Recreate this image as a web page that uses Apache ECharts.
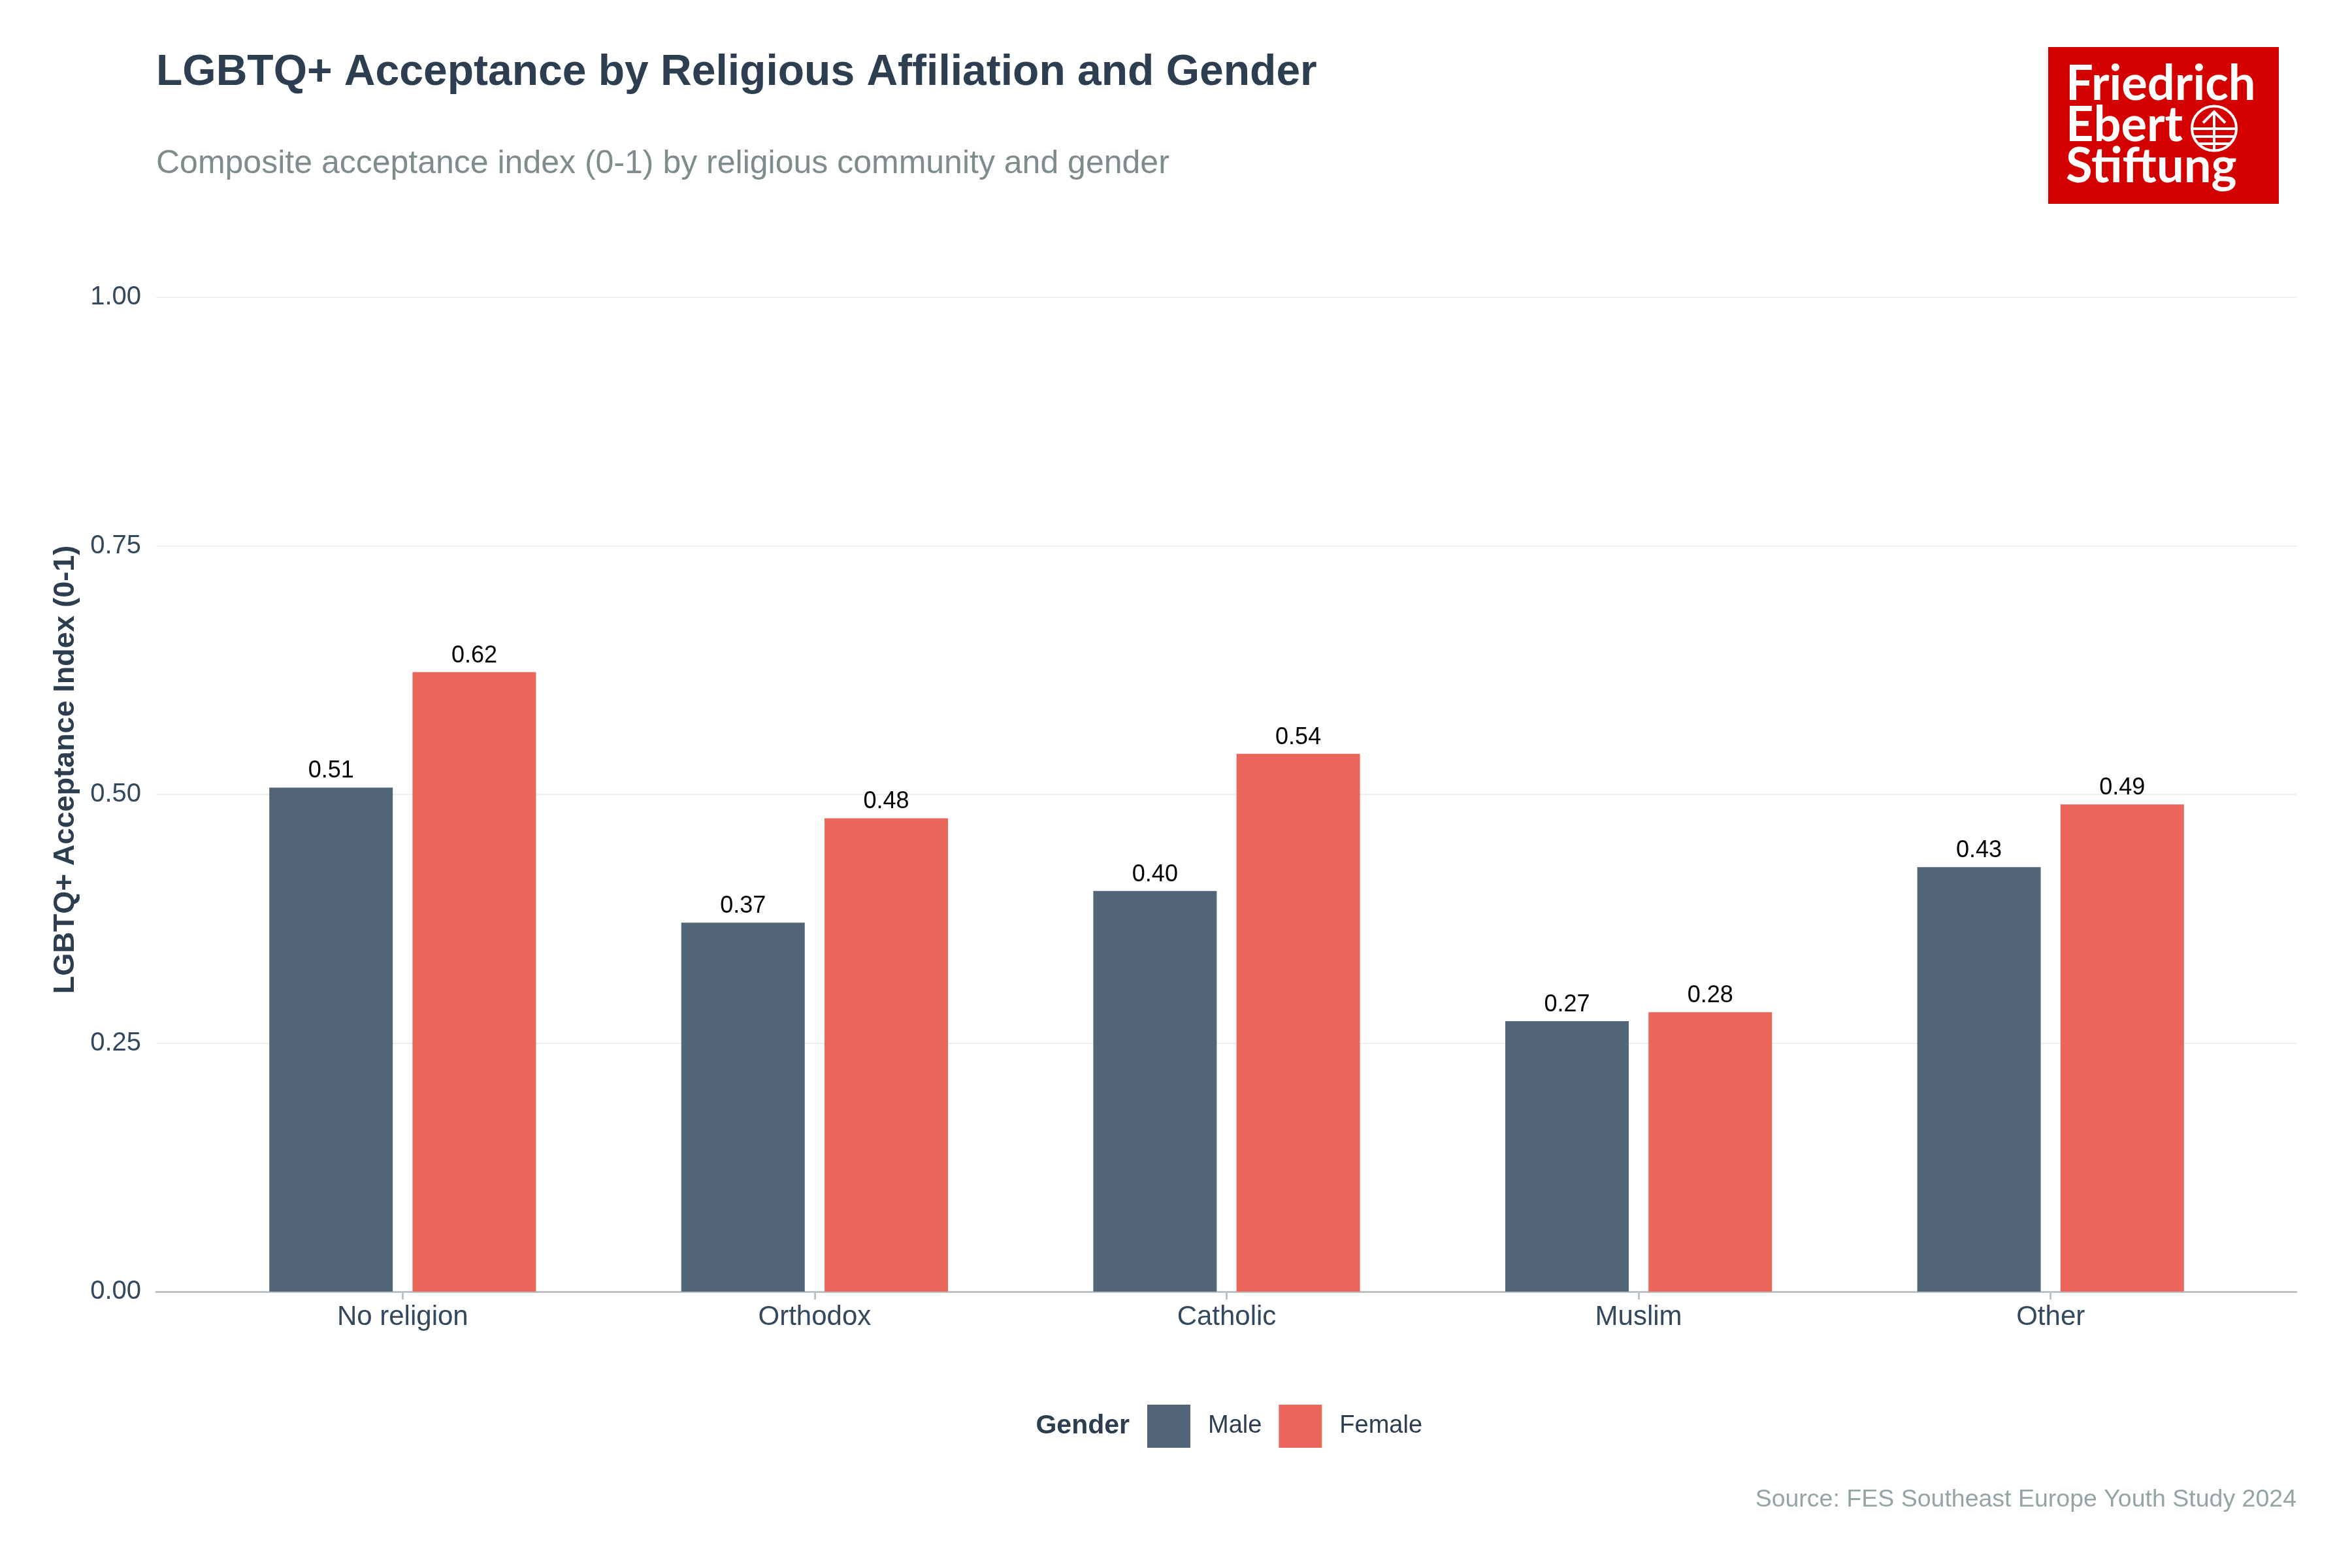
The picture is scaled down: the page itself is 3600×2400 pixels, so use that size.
<!DOCTYPE html>
<html>
<head>
<meta charset="utf-8">
<script src="https://cdn.jsdelivr.net/npm/echarts@6/dist/echarts.min.js"></script>
<style>
  html, body { margin: 0; padding: 0; background: #ffffff; }
  #chart { width: 3600px; height: 2400px; }
</style>
</head>
<body>
<div id="chart"></div>
<script>
const categories = ['No religion', 'Orthodox', 'Catholic', 'Muslim', 'Other'];
const maleValues = [0.507, 0.371, 0.403, 0.272, 0.427];
const femaleValues = [0.623, 0.476, 0.541, 0.281, 0.490];
const seriesNames = ['Male', 'Female'];
const yMin = 0;
const yMax = 1.05;
const yInterval = 0.25;

const titleText = 'LGBTQ+ Acceptance by Religious Affiliation and Gender';
const subtitleText = 'Composite acceptance index (0-1) by religious community and gender';
const yAxisTitle = 'LGBTQ+ Acceptance Index (0-1)';
const legendTitle = 'Gender';
const sourceText = 'Source: FES Southeast Europe Youth Study 2024';

const FONT = '"Liberation Sans", Arial, Helvetica, sans-serif';
const LOGOFONT = 'bold 74px Lato, "Open Sans", sans-serif';
const colMale = '#536578';
const colFemale = '#eb675b';

const chart = echarts.init(document.getElementById('chart'), null, { renderer: 'canvas' });

const option = {
  backgroundColor: '#ffffff',
  animation: false,
  textStyle: { fontFamily: FONT },
  title: [
    { text: titleText, left: 239, top: 79, padding: 0,
      textStyle: { fontFamily: FONT, fontSize: 66, fontWeight: 'bold', color: '#2c3e50' } },
    { text: subtitleText, left: 239, top: 226, padding: 0,
      textStyle: { fontFamily: FONT, fontSize: 50, fontWeight: 'normal', color: '#7f8c8d' } }
  ],
  grid: [
    { left: 239, right: 85, top: 379, bottom: 423, containLabel: false, outerBoundsMode: 'none' },
    { left: 301, right: 146, top: 379, bottom: 423, containLabel: false, outerBoundsMode: 'none' }
  ],
  xAxis: [
    { type: 'value', gridIndex: 0, min: 0, max: 1,
      axisLine: { show: true, onZero: false, lineStyle: { color: '#bdc3c7', width: 3 } },
      axisTick: { show: false }, axisLabel: { show: false }, splitLine: { show: false } },
    { type: 'category', gridIndex: 1, data: categories, boundaryGap: true,
      axisLine: { show: false },
      axisTick: { show: true, alignWithLabel: true, length: 12, lineStyle: { color: '#bdc3c7', width: 3 } },
      axisLabel: { show: true, margin: 18, fontSize: 42, color: '#34495e', fontFamily: FONT },
      splitLine: { show: false } }
  ],
  yAxis: [
    { type: 'value', gridIndex: 0, min: yMin, max: yMax, interval: yInterval,
      name: yAxisTitle, nameLocation: 'middle', nameGap: 116,
      nameTextStyle: { fontFamily: FONT, fontSize: 45, fontWeight: 'bold', color: '#2c3e50' },
      axisLine: { show: false }, axisTick: { show: false },
      axisLabel: { show: true, margin: 23, fontSize: 40, color: '#34495e', fontFamily: FONT,
        showMaxLabel: false,
        formatter: v => (Math.abs(v / yInterval - Math.round(v / yInterval)) < 1e-6 ? v.toFixed(2) : '') },
      splitLine: { show: true, showMaxLine: false, lineStyle: { color: '#ecf0f1', width: 2 } } },
    { type: 'value', gridIndex: 1, min: yMin, max: yMax, interval: yInterval, show: false,
      splitLine: { show: false } }
  ],
  legend: {
    data: seriesNames, left: 1756, top: 2150, orient: 'horizontal', padding: 0,
    icon: 'rect', itemWidth: 66, itemHeight: 66, itemGap: 26,
    selectedMode: false,
    textStyle: { fontFamily: FONT, fontSize: 38, color: '#2c3e50', padding: [0, 0, 0, 22] }
  },
  series: [
    { name: seriesNames[0], type: 'bar', xAxisIndex: 1, yAxisIndex: 1, data: maleValues,
      barWidth: 189, barGap: '16%', itemStyle: { color: colMale },
      label: { show: true, position: 'top', distance: 7, fontSize: 36, color: '#000000', fontFamily: FONT,
        formatter: p => Number(p.value).toFixed(2) } },
    { name: seriesNames[1], type: 'bar', xAxisIndex: 1, yAxisIndex: 1, data: femaleValues,
      barWidth: 189, barGap: '16%', itemStyle: { color: colFemale },
      label: { show: true, position: 'top', distance: 7, fontSize: 36, color: '#000000', fontFamily: FONT,
        formatter: p => Number(p.value).toFixed(2) } }
  ],
  graphic: [
    { type: 'text', x: 1729, y: 2183,
      style: { text: legendTitle, fill: '#2c3e50', font: 'bold 41px ' + FONT, textAlign: 'right', textVerticalAlign: 'middle', verticalAlign: 'middle' } },
    { type: 'text', x: 3515, y: 2296,
      style: { text: sourceText, fill: '#95a5a6', font: '37.5px ' + FONT, textAlign: 'right', textVerticalAlign: 'middle', verticalAlign: 'middle' } },
    { type: 'group', x: 0, y: 0, children: [
      { type: 'rect', shape: { x: 3135, y: 72, width: 353, height: 240 }, style: { fill: '#d40000' } },
      { type: 'text', x: 3162, y: 166,
        style: { text: 'Friedrich', fill: '#ffffff', font: LOGOFONT, textAlign: 'left', textVerticalAlign: 'bottom', verticalAlign: 'bottom' } },
      { type: 'text', x: 3162, y: 229,
        style: { text: 'Ebert', fill: '#ffffff', font: LOGOFONT, textAlign: 'left', textVerticalAlign: 'bottom', verticalAlign: 'bottom' } },
      { type: 'text', x: 3162, y: 292,
        style: { text: 'Stiftung', fill: '#ffffff', font: LOGOFONT, textAlign: 'left', textVerticalAlign: 'bottom', verticalAlign: 'bottom' } },
      { type: 'circle', shape: { cx: 3389, cy: 196.5, r: 34 }, style: { fill: 'none', stroke: '#ffffff', lineWidth: 4 } },
      { type: 'line', shape: { x1: 3389, y1: 171, x2: 3389, y2: 231 }, style: { stroke: '#ffffff', lineWidth: 4 } },
      { type: 'polyline', shape: { points: [[3372, 188], [3389, 171], [3406, 188]] }, style: { fill: 'none', stroke: '#ffffff', lineWidth: 4 } },
      { type: 'line', shape: { x1: 3355, y1: 197, x2: 3423, y2: 197 }, style: { stroke: '#ffffff', lineWidth: 4 } },
      { type: 'line', shape: { x1: 3357, y1: 209, x2: 3421, y2: 209 }, style: { stroke: '#ffffff', lineWidth: 4 } },
      { type: 'line', shape: { x1: 3364, y1: 220, x2: 3414, y2: 220 }, style: { stroke: '#ffffff', lineWidth: 4 } }
    ] }
  ]
};

chart.setOption(option);
</script>
</body>
</html>
